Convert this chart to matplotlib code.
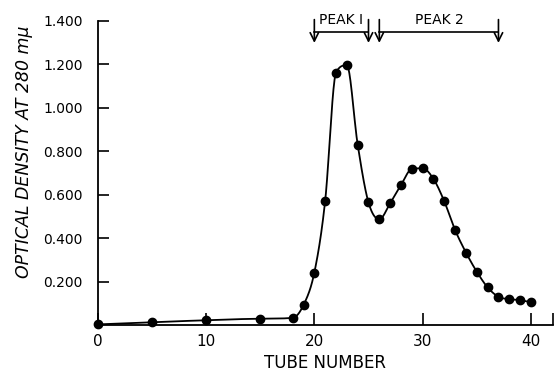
import numpy as np
import matplotlib
matplotlib.use("Agg")
import matplotlib.pyplot as plt

# tube number vs optical density
tubes = [0, 5, 10, 15, 18, 19, 20, 21, 22, 23, 24, 25, 26, 27, 28, 29, 30,
         31, 32, 33, 34, 35, 36, 37, 38, 39, 40]
density = [0.005, 0.015, 0.024, 0.031, 0.035, 0.094, 0.243, 0.573, 1.161, 1.195,
           0.831, 0.565, 0.488, 0.561, 0.645, 0.719, 0.722, 0.673, 0.570, 0.438,
           0.335, 0.247, 0.175, 0.132, 0.121, 0.117, 0.106]

y_ticks = [0.2, 0.4, 0.6, 0.8, 1.0, 1.2, 1.4]
y_ticklabels = ["0.200", "0.400", "0.600", "0.800", "1.000", "1.200", "1.400"]
x_ticks = [0, 10, 20, 30, 40]

# fractions marked at the top
peaks = [("PEAK I", 20, 25), ("PEAK 2", 26, 37)]


def smooth_curve(x, y, n=30):
    # cubic hermite through the points, slopes from neighbouring points,
    # limited (Fritsch-Carlson) so the curve doesn't overshoot
    x = np.asarray(x, float)
    y = np.asarray(y, float)
    d = np.diff(y) / np.diff(x)
    m = np.zeros_like(y)
    m[1:-1] = (y[2:] - y[:-2]) / (x[2:] - x[:-2])
    m[1:-1][d[:-1] * d[1:] <= 0] = 0
    m[0] = d[0]
    m[-1] = d[-1]
    for i in range(len(d)):
        if d[i] == 0:
            m[i] = m[i + 1] = 0
            continue
        a, b = m[i] / d[i], m[i + 1] / d[i]
        r = a*a + b*b
        if r > 9:
            tau = 3 / np.sqrt(r)
            m[i] = tau * a * d[i]
            m[i + 1] = tau * b * d[i]
    xs, ys = [], []
    for i in range(len(x) - 1):
        h = x[i + 1] - x[i]
        t = np.linspace(0, 1, n, endpoint=False)
        h00 = 2*t**3 - 3*t**2 + 1
        h10 = t**3 - 2*t**2 + t
        h01 = -2*t**3 + 3*t**2
        h11 = t**3 - t**2
        xs.append(x[i] + t*h)
        ys.append(h00*y[i] + h10*h*m[i] + h01*y[i+1] + h11*h*m[i+1])
    xs.append([x[-1]])
    ys.append([y[-1]])
    return np.concatenate(xs), np.concatenate(ys)


fig = plt.figure(figsize=(5.54, 3.74), dpi=100)
ax = fig.add_axes([0.1764, 0.1297, 0.8211, 0.815])

cx, cy = smooth_curve(tubes, density)
ax.plot(cx, cy, color="black", lw=1.3, clip_on=False)
ax.plot(tubes, density, "o", color="black", ms=6, clip_on=False, zorder=3)

ax.set_xlim(0, 42)
ax.set_ylim(0, 1.4)
ax.spines["top"].set_visible(False)
ax.spines["right"].set_visible(False)
for s in ("left", "bottom"):
    ax.spines[s].set_linewidth(1.3)

ax.set_xticks(x_ticks)
ax.set_xticks([42], minor=True)
ax.set_yticks(y_ticks)
ax.set_yticklabels(y_ticklabels)
ax.tick_params(axis="x", which="both", direction="in", length=8.5, width=1.2,
               pad=6, labelsize=11)
ax.tick_params(axis="y", direction="in", length=8, width=1.2, pad=11,
               labelsize=10)

ax.set_xlabel("TUBE NUMBER", fontsize=12, labelpad=4)
fig.text(24/554, 1 - 151.5/374, "OPTICAL DENSITY AT 280 m\u03bc", rotation=90,
         ha="center", va="center", fontsize=12.5, style="italic")

for name, a, b in peaks:
    ax.plot([a, b], [1.35, 1.35], color="black", lw=1.2, clip_on=False)
    for xx in (a, b):
        ax.annotate("", xy=(xx, 1.298), xytext=(xx, 1.405),
                    arrowprops=dict(arrowstyle="->,head_length=0.6,head_width=0.3",
                                    color="black", lw=1.2, shrinkA=0, shrinkB=0),
                    annotation_clip=False)
    ax.text((a + b) / 2, 1.372, name, ha="center", va="bottom", fontsize=10,
            clip_on=False)

fig.savefig("out.png", dpi=100)
